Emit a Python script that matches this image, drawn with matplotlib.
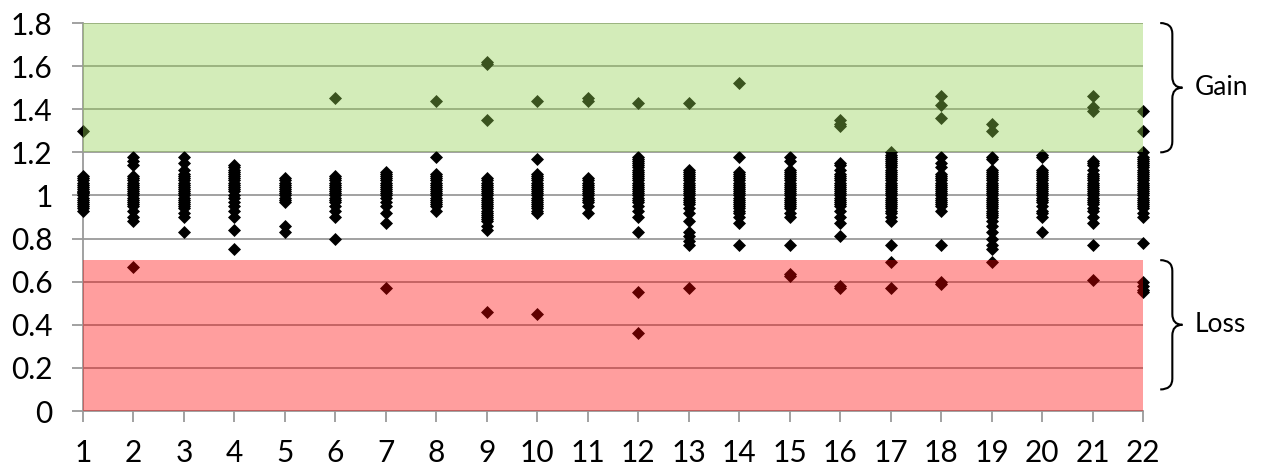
import matplotlib.pyplot as plt
from matplotlib.path import Path
from matplotlib.patches import PathPatch

# copy-number ratio per chromosome
chromosomes = list(range(1, 23))
c1 = [1.30, 1.09, 1.08, 1.07, 1.06, 1.05, 1.04, 1.03, 1.02, 1.015, 1.01, 1.00, 0.99, 0.98, 0.97, 0.96, 0.95, 0.94, 0.93]
c2 = [1.18, 1.16, 1.14, 1.09, 1.08, 1.07, 1.06, 1.05, 1.04, 1.03, 1.02, 1.01, 1.00, 0.99, 0.98, 0.97, 0.96, 0.95, 0.93, 0.90, 0.88, 0.67]
c3 = [1.18, 1.15, 1.12, 1.10, 1.09, 1.08, 1.07, 1.06, 1.05, 1.04, 1.03, 1.02, 1.01, 1.00, 0.99, 0.98, 0.97, 0.96, 0.95, 0.94, 0.92, 0.90, 0.83]
c4 = [1.14, 1.13, 1.12, 1.11, 1.10, 1.09, 1.08, 1.07, 1.06, 1.05, 1.04, 1.03, 1.02, 1.00, 0.99, 0.97, 0.95, 0.93, 0.90, 0.84, 0.75]
c5 = [1.08, 1.07, 1.06, 1.05, 1.04, 1.03, 1.02, 1.01, 1.00, 0.99, 0.98, 0.97, 0.86, 0.83]
c6 = [1.45, 1.09, 1.08, 1.07, 1.06, 1.05, 1.04, 1.03, 1.02, 1.01, 1.00, 0.99, 0.98, 0.97, 0.95, 0.93, 0.90, 0.80]
c7 = [1.11, 1.10, 1.09, 1.08, 1.07, 1.06, 1.05, 1.04, 1.03, 1.02, 1.01, 1.00, 0.99, 0.97, 0.95, 0.92, 0.87, 0.57]
c8 = [1.44, 1.18, 1.10, 1.09, 1.08, 1.07, 1.06, 1.05, 1.04, 1.03, 1.02, 1.01, 1.00, 0.99, 0.98, 0.97, 0.96, 0.95, 0.93]
c9 = [1.62, 1.61, 1.35, 1.08, 1.07, 1.06, 1.05, 1.04, 1.03, 1.02, 1.01, 1.00, 0.99, 0.98, 0.97, 0.96, 0.95, 0.94,
      0.93, 0.92, 0.91, 0.90, 0.89, 0.88, 0.86, 0.84, 0.46]
c10 = [1.44, 1.17, 1.10, 1.09, 1.08, 1.07, 1.06, 1.05, 1.04, 1.03, 1.02, 1.01, 1.00, 0.99, 0.98, 0.97, 0.96, 0.95, 0.94, 0.93, 0.92, 0.45]
c11 = [1.45, 1.44, 1.08, 1.07, 1.06, 1.05, 1.04, 1.03, 1.02, 1.01, 1.00, 0.99, 0.98, 0.97, 0.95, 0.92]
c12 = [1.43, 1.18, 1.17, 1.16, 1.15, 1.14, 1.13, 1.12, 1.11, 1.10, 1.09, 1.08, 1.07, 1.06, 1.05, 1.04, 1.03, 1.02,
       1.01, 1.00, 0.99, 0.98, 0.97, 0.95, 0.93, 0.90, 0.83, 0.55, 0.36]
c13 = [1.43, 1.12, 1.11, 1.10, 1.09, 1.08, 1.07, 1.06, 1.05, 1.04, 1.03, 1.02, 1.01, 1.00, 0.99, 0.98, 0.97, 0.96,
       0.94, 0.92, 0.88, 0.83, 0.81, 0.79, 0.77, 0.57]
c14 = [1.52, 1.18, 1.11, 1.10, 1.09, 1.08, 1.07, 1.06, 1.05, 1.04, 1.03, 1.02, 1.01, 1.00, 0.99, 0.98, 0.97, 0.96,
       0.95, 0.94, 0.93, 0.92, 0.90, 0.87, 0.77]
c15 = [1.18, 1.16, 1.12, 1.11, 1.10, 1.09, 1.08, 1.07, 1.06, 1.05, 1.04, 1.03, 1.02, 1.01, 1.00, 0.99, 0.98, 0.97,
       0.96, 0.95, 0.94, 0.92, 0.90, 0.77, 0.635, 0.625]
c16 = [1.35, 1.33, 1.32, 1.15, 1.14, 1.12, 1.10, 1.09, 1.08, 1.07, 1.06, 1.05, 1.04, 1.03, 1.02, 1.01, 1.00, 0.99,
       0.98, 0.97, 0.96, 0.95, 0.93, 0.90, 0.87, 0.81, 0.58, 0.57]
c17 = [1.20, 1.19, 1.18, 1.17, 1.16, 1.15, 1.14, 1.13, 1.12, 1.11, 1.10, 1.09, 1.08, 1.07, 1.06, 1.05, 1.04, 1.03,
       1.02, 1.01, 1.00, 0.99, 0.98, 0.97, 0.96, 0.95, 0.94, 0.93, 0.92, 0.90, 0.88, 0.77, 0.69, 0.57]
c18 = [1.46, 1.42, 1.36, 1.18, 1.15, 1.13, 1.10, 1.09, 1.08, 1.07, 1.06, 1.05, 1.04, 1.03, 1.02, 1.01, 1.00, 0.99,
       0.98, 0.97, 0.96, 0.95, 0.93, 0.77, 0.60, 0.59]
c19 = [1.33, 1.30, 1.18, 1.17, 1.12, 1.11, 1.10, 1.09, 1.08, 1.07, 1.06, 1.05, 1.04, 1.03, 1.02, 1.01, 1.00, 0.99,
       0.98, 0.97, 0.96, 0.95, 0.94, 0.93, 0.92, 0.91, 0.90, 0.88, 0.86, 0.83, 0.80, 0.77, 0.75, 0.69]
c20 = [1.19, 1.18, 1.12, 1.11, 1.10, 1.09, 1.08, 1.07, 1.06, 1.05, 1.04, 1.03, 1.02, 1.01, 1.00, 0.99, 0.98, 0.97,
       0.95, 0.93, 0.92, 0.90, 0.83]
c21 = [1.46, 1.41, 1.39, 1.16, 1.15, 1.14, 1.12, 1.10, 1.09, 1.08, 1.07, 1.06, 1.05, 1.04, 1.03, 1.02, 1.01, 1.00,
       0.99, 0.98, 0.97, 0.96, 0.94, 0.93, 0.90, 0.87, 0.77, 0.61]
c22 = [1.39, 1.30, 1.20, 1.18, 1.17, 1.16, 1.15, 1.14, 1.13, 1.12, 1.11, 1.10, 1.09, 1.08, 1.07, 1.06, 1.05, 1.04,
       1.03, 1.02, 1.01, 1.00, 0.99, 0.98, 0.97, 0.96, 0.95, 0.94, 0.92, 0.90, 0.78, 0.60, 0.58, 0.56, 0.55]
ratios = [c1, c2, c3, c4, c5, c6, c7, c8, c9, c10, c11, c12, c13, c14, c15, c16, c17, c18, c19, c20, c21, c22]

gain_band = (1.2, 1.8)
loss_band = (0.0, 0.7)
yticks = [0, 0.2, 0.4, 0.6, 0.8, 1, 1.2, 1.4, 1.6, 1.8]

plt.rcParams['font.family'] = ['Lato', 'DejaVu Sans']

fig = plt.figure(figsize=(12.65, 4.7), dpi=100)
ax = fig.add_axes([0.0656, 0.1255, 0.8380, 0.8255])

for chrom, vals in zip(chromosomes, ratios):
    ax.scatter([chrom] * len(vals), vals, marker='D', s=44, color='black',
               linewidths=0, zorder=3, clip_on=False)

# coloured bands sit on top of the points, semi-transparent
ax.axhspan(*gain_band, color='#92D050', alpha=0.4, lw=0, zorder=4)
ax.axhspan(*loss_band, color='#FF0000', alpha=0.38, lw=0, zorder=4)

ax.set_xlim(1, 22)
ax.set_ylim(0, 1.8)
ax.set_xticks(chromosomes)
ax.set_yticks(yticks)
ax.set_yticklabels(['0', '0.2', '0.4', '0.6', '0.8', '1', '1.2', '1.4', '1.6', '1.8'])
ax.grid(axis='y', color='#9a9a9a', lw=1.3, zorder=1)
ax.set_axisbelow(True)
for s in ['top', 'right']:
    ax.spines[s].set_visible(False)
for s in ['left', 'bottom']:
    ax.spines[s].set_color('#9a9a9a')
    ax.spines[s].set_linewidth(1.3)
ax.tick_params(axis='x', length=8, width=1.3, color='#9a9a9a', pad=12, labelsize=21.5)
ax.tick_params(axis='y', length=8, width=1.3, color='#9a9a9a', pad=14, labelsize=21.5)


def brace(y_bot, y_top, x0=22.34, w=0.24, tip=0.2, r=0.05):
    ym = (y_bot + y_top) / 2
    xv = x0 + w
    verts = [(x0, y_top), (xv, y_top), (xv, y_top - r),
             (xv, ym + r), (xv, ym), (xv + tip, ym),
             (xv, ym), (xv, ym - r),
             (xv, y_bot + r), (xv, y_bot), (x0, y_bot)]
    codes = [Path.MOVETO, Path.CURVE3, Path.CURVE3,
             Path.LINETO, Path.CURVE3, Path.CURVE3,
             Path.CURVE3, Path.CURVE3,
             Path.LINETO, Path.CURVE3, Path.CURVE3]
    ax.add_patch(PathPatch(Path(verts, codes), fc='none', ec='black', lw=1.5, clip_on=False))
    return ym


ym = brace(*gain_band)
ax.text(23.03, ym, 'Gain', fontsize=19, va='center', ha='left')
ym = brace(0.1, 0.7)
ax.text(23.03, ym, 'Loss', fontsize=19, va='center', ha='left')

plt.savefig('out.png', dpi=100)
